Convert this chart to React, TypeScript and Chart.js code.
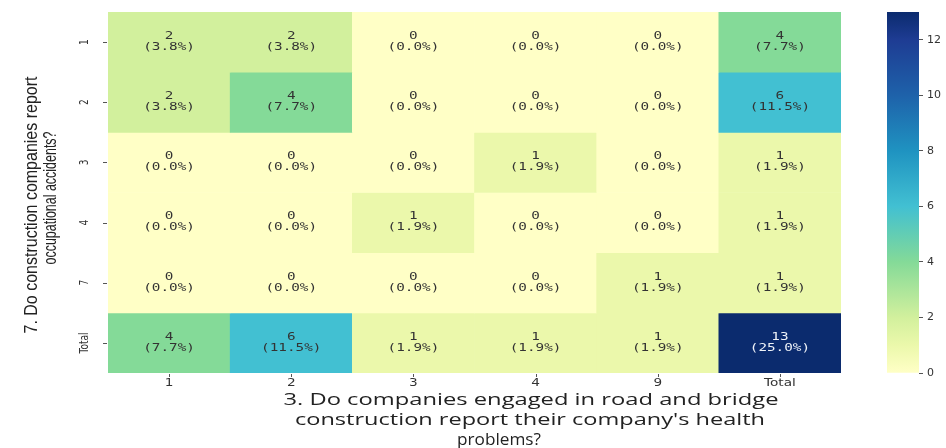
import React, { useEffect, useRef } from "react";
import { Chart, registerables } from "chart.js";

Chart.register(...registerables);

// ---------- data ----------
const ROW_LABELS = ["1", "2", "3", "4", "7", "Total"];
const COL_LABELS = ["1", "2", "3", "4", "9", "Total"];

const ROW_1 = [2, 2, 0, 0, 0, 4];
const ROW_2 = [2, 4, 0, 0, 0, 6];
const ROW_3 = [0, 0, 0, 1, 0, 1];
const ROW_4 = [0, 0, 1, 0, 0, 1];
const ROW_7 = [0, 0, 0, 0, 1, 1];
const ROW_TOTAL = [4, 6, 1, 1, 1, 13];
const VALUES = [ROW_1, ROW_2, ROW_3, ROW_4, ROW_7, ROW_TOTAL];

const N_RESPONDENTS = 52;
const COLOR_MIN = 0;
const COLOR_MAX = 13;
const COLORBAR_TICKS = [0, 2, 4, 6, 8, 10, 12];

const X_TITLE_LINES = [
  "3. Do companies engaged in road and bridge",
  "construction report their company's health",
  "problems?",
];
const Y_TITLE_LINES = ["7. Do construction companies report", "occupational accidents?"];

// ---------- colour map (YlGnBu-like, as seen in the picture) ----------
const COLOR_STOPS: [number, string][] = [
  [0.0, "#ffffc6"],
  [0.077, "#ebf8ab"],
  [0.154, "#d2f09d"],
  [0.308, "#84da98"],
  [0.385, "#62cdb4"],
  [0.4615, "#42c0d2"],
  [0.615, "#1f93c1"],
  [0.769, "#1e62aa"],
  [0.923, "#1e3c93"],
  [1.0, "#0b2b6e"],
];

function hexToRgb(h: string) {
  const n = parseInt(h.slice(1), 16);
  return [(n >> 16) & 255, (n >> 8) & 255, n & 255];
}
function colorFor(v: number) {
  const f = Math.max(0, Math.min(1, (v - COLOR_MIN) / (COLOR_MAX - COLOR_MIN)));
  for (let k = 0; k < COLOR_STOPS.length - 1; k++) {
    const [f0, c0] = COLOR_STOPS[k];
    const [f1, c1] = COLOR_STOPS[k + 1];
    if (f >= f0 && f <= f1) {
      const t = (f - f0) / (f1 - f0 || 1);
      const a = hexToRgb(c0);
      const b = hexToRgb(c1);
      const r = a.map((x, i) => Math.round(x + (b[i] - x) * t));
      return `rgb(${r[0]},${r[1]},${r[2]})`;
    }
  }
  return COLOR_STOPS[COLOR_STOPS.length - 1][1];
}

function drawText(
  ctx: CanvasRenderingContext2D,
  text: string,
  x: number,
  y: number,
  font: string,
  color: string,
  opts: { len?: number; sx?: number; rot?: boolean; thick?: number } = {}
) {
  ctx.save();
  ctx.font = font;
  ctx.fillStyle = color;
  ctx.textAlign = "center";
  ctx.textBaseline = "middle";
  ctx.translate(x, y);
  if (opts.rot) ctx.rotate(-Math.PI / 2);
  const w = ctx.measureText(text).width;
  const s = opts.len ? opts.len / w : opts.sx ?? 1;
  ctx.scale(s, opts.thick ?? 1);
  ctx.fillText(text, 0, 0);
  ctx.restore();
}

const annotatePlugin = {
  id: "annotateHeatmap",
  afterDraw(chart: any) {
    const ctx: CanvasRenderingContext2D = chart.ctx;
    const xs = chart.scales.x;
    const ys = chart.scales.y;
    const area = chart.chartArea;

    // cell annotations
    VALUES.forEach((row, i) => {
      row.forEach((v, j) => {
        const cx = xs.getPixelForValue(j);
        const cy = ys.getPixelForValue(i + 0.5);
        const col = v >= 9 ? "#eef2f8" : "#333333";
        const font = '11px "DejaVu Sans Mono"';
        drawText(ctx, String(v), cx, cy - 6, font, col, { sx: 1.3 });
        const pct = ((v / N_RESPONDENTS) * 100).toFixed(1);
        drawText(ctx, `(${pct}%)`, cx, cy + 5, font, col, { sx: 1.3 });
      });
    });

    // x ticks
    ctx.save();
    ctx.strokeStyle = "#555";
    ctx.lineWidth = 1;
    COL_LABELS.forEach((lab, j) => {
      const x = Math.round(xs.getPixelForValue(j)) + 0.5;
      ctx.beginPath();
      ctx.moveTo(x, area.bottom + 1);
      ctx.lineTo(x, area.bottom + 4);
      ctx.stroke();
    });
    ROW_LABELS.forEach((lab, i) => {
      const y = Math.round(ys.getPixelForValue(i + 0.5)) + 0.5;
      ctx.beginPath();
      ctx.moveTo(area.left - 5, y);
      ctx.lineTo(area.left - 1, y);
      ctx.stroke();
    });
    ctx.restore();

    COL_LABELS.forEach((lab, j) => {
      drawText(ctx, lab, xs.getPixelForValue(j), area.bottom + 10, '10.5px "DejaVu Sans"', "#333", {
        sx: 1.3,
      });
    });
    ROW_LABELS.forEach((lab, i) => {
      drawText(ctx, lab, area.left - 23, ys.getPixelForValue(i + 0.5), '11.5px "DejaVu Sans"', "#333", {
        rot: true,
        sx: 0.78,
      });
    });

    // x axis title
    const xCenters = [531, 530, 499];
    const xLens = [495, 470, 84];
    const xYs = [area.bottom + 27, area.bottom + 47, area.bottom + 67];
    X_TITLE_LINES.forEach((t, k) => {
      drawText(ctx, t, xCenters[k], xYs[k], '17px "Open Sans"', "#222", { len: xLens[k] });
    });

    // y axis title
    const yXs = [32, 51];
    const yCenters = [205, 198];
    const yLens = [257, 133];
    Y_TITLE_LINES.forEach((t, k) => {
      drawText(ctx, t, yXs[k], yCenters[k], '18px "Liberation Sans"', "#222", {
        rot: true,
        len: yLens[k],
      });
    });
  },
};

export default function App() {
  const mainRef = useRef<HTMLCanvasElement>(null);
  const barRef = useRef<HTMLCanvasElement>(null);

  useEffect(() => {
    document.body.style.margin = "0";
    const main = new Chart(mainRef.current!, {
      type: "bar",
      data: {
        labels: COL_LABELS,
        datasets: VALUES.map((row, i) => ({
          label: ROW_LABELS[i],
          data: row.map(() => [i, i + 1]) as any,
          backgroundColor: row.map((v) => colorFor(v)),
          borderWidth: 0,
          barPercentage: 1,
          categoryPercentage: 1,
          grouped: false,
        })),
      },
      options: {
        responsive: false,
        animation: false,
        layout: { padding: { left: 108, top: 12, right: 105, bottom: 75 } },
        scales: {
          x: { type: "category", display: false, offset: true },
          y: { type: "linear", min: 0, max: ROW_LABELS.length, reverse: true, display: false },
        },
        plugins: { legend: { display: false }, tooltip: { enabled: false } },
      },
      plugins: [annotatePlugin],
    });

    const cbar = new Chart(barRef.current!, {
      type: "bar",
      data: {
        labels: ["scale"],
        datasets: [
          {
            data: [[COLOR_MIN, COLOR_MAX]] as any,
            borderWidth: 0,
            barPercentage: 1,
            categoryPercentage: 1,
            backgroundColor: (c: any) => {
              const chart = c.chart;
              if (!chart.chartArea) return "transparent";
              const ys = chart.scales.y;
              const g = chart.ctx.createLinearGradient(
                0,
                ys.getPixelForValue(COLOR_MIN),
                0,
                ys.getPixelForValue(COLOR_MAX)
              );
              COLOR_STOPS.forEach(([f, col]) => g.addColorStop(f, col));
              return g;
            },
          },
        ],
      },
      options: {
        responsive: false,
        animation: false,
        layout: { padding: { left: 17, top: 12, bottom: 75, right: 0 } },
        scales: {
          x: { display: false },
          y: {
            position: "right",
            min: COLOR_MIN,
            max: COLOR_MAX,
            afterBuildTicks: (s: any) => {
              s.ticks = COLORBAR_TICKS.map((v) => ({ value: v }));
            },
            afterFit: (s: any) => {
              s.width = 31;
            },
            ticks: {
              font: { family: "DejaVu Sans", size: 11 },
              color: "#333",
              padding: 4,
            },
            grid: { drawOnChartArea: false, tickLength: 4, color: "#555" },
            border: { display: false },
          },
        },
        plugins: { legend: { display: false }, tooltip: { enabled: false } },
      },
    });

    return () => {
      main.destroy();
      cbar.destroy();
    };
  }, []);

  return (
    <div
      style={{
        position: "relative",
        width: 946,
        height: 448,
        overflow: "hidden",
        background: "#ffffff",
      }}
    >
      <canvas
        ref={mainRef}
        width={946}
        height={448}
        style={{ position: "absolute", left: 0, top: 0 }}
      />
      <canvas
        ref={barRef}
        width={80}
        height={448}
        style={{ position: "absolute", left: 870, top: 0 }}
      />
    </div>
  );
}
